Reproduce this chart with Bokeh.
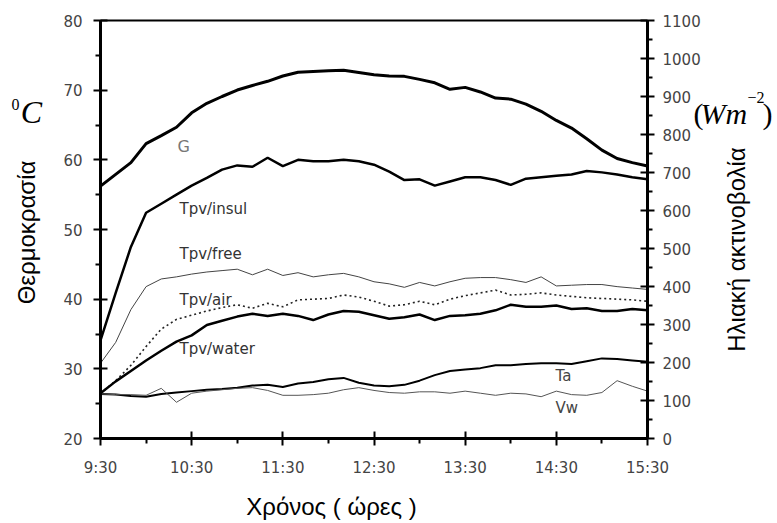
import math
from bokeh.plotting import figure
from bokeh.models import Range1d, LinearAxis, FixedTicker, Label
from bokeh.embed import file_html
from bokeh.resources import INLINE

# ---------------- data ----------------
TIMES = ["9:30", "9:40", "9:50", "10:00", "10:10", "10:20", "10:30", "10:40", "10:50",
         "11:00", "11:10", "11:20", "11:30", "11:40", "11:50", "12:00", "12:10", "12:20",
         "12:30", "12:40", "12:50", "13:00", "13:10", "13:20", "13:30", "13:40", "13:50",
         "14:00", "14:10", "14:20", "14:30", "14:40", "14:50", "15:00", "15:10", "15:20",
         "15:30"]

# solar irradiance G (W/m2, right axis)
G_IRR = [664, 695, 726, 776, 797, 819, 857, 882, 900, 917, 929, 940, 954, 964, 966,
         968, 969, 963, 957, 954, 953, 945, 936, 919, 924, 912, 896, 893, 880, 861,
         837, 817, 789, 759, 737, 726, 717]

# temperatures (deg C, left axis)
T_INSUL = [34.1, 40.9, 47.5, 52.4, 53.7, 55.0, 56.3, 57.4, 58.6, 59.2, 59.0, 60.3, 59.1,
           60.0, 59.8, 59.8, 60.0, 59.8, 59.3, 58.3, 57.1, 57.2, 56.3, 56.9, 57.5, 57.5,
           57.1, 56.4, 57.3, 57.5, 57.7, 57.9, 58.4, 58.2, 57.9, 57.5, 57.2]
T_FREE = [30.8, 33.8, 38.5, 41.8, 42.9, 43.2, 43.6, 43.9, 44.1, 44.3, 43.5, 44.3, 43.4,
          43.8, 43.2, 43.5, 43.7, 43.2, 42.5, 42.2, 41.7, 42.4, 41.9, 42.5, 43.0, 43.1,
          43.1, 42.8, 42.4, 43.2, 41.9, 42.0, 42.1, 42.1, 41.8, 41.6, 41.4]
T_AIR = [26.5, 28.3, 30.5, 33.2, 35.7, 37.1, 37.7, 38.3, 38.8, 39.2, 38.7, 39.4, 38.9,
         39.9, 40.0, 40.1, 40.6, 40.3, 39.7, 39.0, 39.2, 39.7, 39.2, 40.0, 40.5, 40.9,
         41.3, 40.6, 40.7, 40.9, 40.6, 40.4, 40.2, 40.1, 40.0, 39.9, 39.7]
T_WATER = [26.5, 28.2, 29.7, 31.2, 32.6, 33.9, 34.8, 36.3, 36.9, 37.5, 37.9, 37.6, 37.9,
           37.6, 37.0, 37.8, 38.3, 38.2, 37.7, 37.2, 37.4, 37.8, 37.0, 37.6, 37.7, 37.9,
           38.4, 39.2, 38.9, 38.9, 39.1, 38.6, 38.7, 38.3, 38.3, 38.6, 38.4]
T_A = [26.4, 26.3, 26.1, 26.0, 26.4, 26.6, 26.8, 27.0, 27.1, 27.3, 27.6, 27.7, 27.4,
       27.9, 28.1, 28.5, 28.7, 28.0, 27.6, 27.5, 27.7, 28.3, 29.1, 29.7, 29.9, 30.1,
       30.5, 30.5, 30.7, 30.8, 30.8, 30.7, 31.1, 31.5, 31.4, 31.2, 31.0]
V_W = [26.4, 26.3, 26.3, 26.2, 27.2, 25.2, 26.5, 26.8, 27.0, 27.2, 27.3, 26.9, 26.2,
       26.2, 26.3, 26.5, 27.0, 27.3, 26.9, 26.6, 26.5, 26.7, 26.7, 26.5, 26.8, 26.5,
       26.2, 26.5, 26.4, 26.0, 26.8, 26.3, 26.2, 26.6, 28.3, 27.5, 26.8]

X_TICK_LABELS = ["9:30", "10:30", "11:30", "12:30", "13:30", "14:30", "15:30"]
X_MINOR_LABELS = ["10:00", "11:00", "12:00", "13:00", "14:00", "15:00"]
LEFT_TICKS = [20, 30, 40, 50, 60, 70, 80]
LEFT_MINOR = [25, 35, 45, 55, 65, 75]
RIGHT_TICKS = [0, 100, 200, 300, 400, 500, 600, 700, 800, 900, 1000, 1100]
RIGHT_MINOR = [50, 150, 250, 350, 450, 550, 650, 750, 850, 950, 1050]


def hours(s):
    h, m = s.split(":")
    return int(h) + int(m) / 60.0


t = [hours(s) for s in TIMES]
x_ticks = [hours(s) for s in X_TICK_LABELS]
x_minor = [hours(s) for s in X_MINOR_LABELS]
X0, X1 = x_ticks[0], x_ticks[-1]
Y0, Y1 = LEFT_TICKS[0], LEFT_TICKS[-1]
R0, R1 = RIGHT_TICKS[0], RIGHT_TICKS[-1]

# ---------------- layout (pixels of the 777x523 canvas) ----------------
W, H = 777, 523
PL, PR, PT, PB = 100, 647, 20, 438          # plotting box
kx = (PR - PL) / (X1 - X0)                  # px per hour
ky = (PB - PT) / (Y1 - Y0)                  # px per degC
kr = (PB - PT) / (R1 - R0)                  # px per W/m2

x_rng = Range1d(X0 - PL / kx, X1 + (W - PR) / kx)
y_rng = Range1d(Y0 - (H - PB) / ky, Y1 + PT / ky)
r_rng = Range1d(R0 - (H - PB) / kr, R1 + PT / kr)


def tx(px):
    return x_rng.start + px / kx


def ty(py):
    return y_rng.end - py / ky


p = figure(width=W, height=H, output_backend="svg", toolbar_location=None,
           x_range=x_rng, y_range=y_rng, min_border=0, min_border_left=0,
           min_border_right=0, min_border_top=0, min_border_bottom=0)
p.extra_y_ranges = {"irr": r_rng}
p.xgrid.visible = False
p.ygrid.visible = False
p.outline_line_color = None
p.background_fill_color = "white"
p.border_fill_color = "white"


def style_axis(ax, standoff):
    ax.axis_line_color = "black"
    ax.axis_line_width = 3
    ax.major_tick_line_color = "black"
    ax.major_tick_line_width = 2
    ax.major_tick_in = 7
    ax.major_tick_out = 7
    ax.minor_tick_line_color = "black"
    ax.minor_tick_line_width = 2
    ax.minor_tick_in = 1
    ax.minor_tick_out = 5
    ax.major_label_text_font = "DejaVu Sans"
    ax.major_label_text_font_size = "15px"
    ax.major_label_text_color = "#444444"
    ax.major_label_standoff = standoff


xa = p.xaxis[0]
xa.ticker = FixedTicker(ticks=x_ticks, minor_ticks=x_minor)
xa.major_label_overrides = {v: s for v, s in zip(x_ticks, X_TICK_LABELS)}
xa.fixed_location = Y0
xa.bounds = (X0, X1)
style_axis(xa, 13)

ya = p.yaxis[0]
ya.ticker = FixedTicker(ticks=LEFT_TICKS, minor_ticks=LEFT_MINOR)
ya.fixed_location = X0
ya.bounds = (Y0, Y1)
style_axis(ya, 11)

rax = LinearAxis(y_range_name="irr", fixed_location=X1, bounds=(R0, R1),
                 ticker=FixedTicker(ticks=RIGHT_TICKS, minor_ticks=RIGHT_MINOR))
style_axis(rax, 8)
p.add_layout(rax, "right")

# top border line of the plotting box
tax = LinearAxis(fixed_location=Y1, bounds=(X0, X1), ticker=FixedTicker(ticks=[]))
tax.axis_line_color = "black"
tax.axis_line_width = 2
tax.major_label_text_font_size = "0px"
p.add_layout(tax, "above")

# ---------------- lines ----------------
p.line(t, G_IRR, y_range_name="irr", line_color="black", line_width=3)
p.line(t, T_INSUL, line_color="black", line_width=2.5)
p.line(t, T_FREE, line_color="#444444", line_width=1)
p.line(t, T_AIR, line_color="#222222", line_width=1.6, line_dash="2 3")
p.line(t, T_WATER, line_color="black", line_width=2.5)
p.line(t, T_A, line_color="black", line_width=2)
p.line(t, V_W, line_color="#555555", line_width=1)


# ---------------- texts ----------------
def lab(px, py, text, size="15px", color="#333333", font="DejaVu Sans", style="normal",
        align="left", baseline="middle", angle=0.0):
    p.add_layout(Label(x=tx(px), y=ty(py), text=text, text_font=font,
                       text_font_size=size, text_color=color, text_font_style=style,
                       text_align=align, text_baseline=baseline, angle=angle))


lab(177, 146, "G", size="16px", color="#777777")
lab(179, 208, "Tpv/insul")
lab(179, 253.5, "Tpv/free")
lab(179, 299, "Tpv/air")
lab(179, 348, "Tpv/water")
lab(555, 375, "Ta", color="#444444")
lab(555, 407.5, "Vw", color="#444444")

lab(26, 232, "Θερμοκρασία", size="24px", color="black", font="Liberation Sans",
    align="center", angle=math.pi / 2)
lab(736, 249, "Ηλιακή ακτινοβολία", size="24px", color="black",
    font="Liberation Sans", align="center", angle=math.pi / 2)
lab(331, 506, "Χρόνος ( ώρες )", size="24px", color="black",
    font="Liberation Sans", align="center")

lab(15, 104, "0", size="16px", color="black", font="Liberation Serif", align="center")
lab(31, 111, "C", size="32px", color="black", font="Liberation Serif",
    style="italic", align="center")

lab(693, 113, "(", size="30px", color="black", font="Liberation Serif",
    baseline="alphabetic")
lab(700, 113, "Wm", size="30px", color="black", font="Liberation Serif",
    style="italic", baseline="alphabetic")
lab(747, 97, "−2", size="16px", color="black", font="Liberation Serif",
    baseline="alphabetic")
lab(762, 113, ")", size="30px", color="black", font="Liberation Serif",
    baseline="alphabetic")

open("out.html", "w").write(file_html(p, INLINE))
